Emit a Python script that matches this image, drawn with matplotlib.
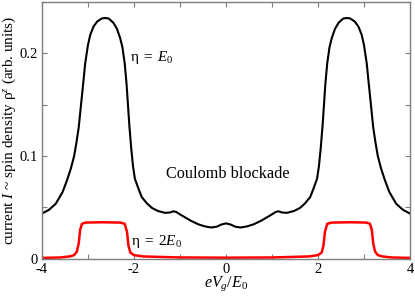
import numpy as np
import matplotlib
matplotlib.use("Agg")
import matplotlib.pyplot as plt
from matplotlib.ticker import MultipleLocator

plt.rcParams['font.family'] = ['Liberation Serif', 'DejaVu Serif']
plt.rcParams['mathtext.fontset'] = 'custom'
plt.rcParams['mathtext.rm'] = 'Liberation Serif'
plt.rcParams['mathtext.it'] = 'Liberation Serif:italic'

# eta = E0 curve (black)
x_black = [-4.00, -3.85, -3.70, -3.55, -3.45, -3.37, -3.30, -3.25, -3.20, -3.15,
           -3.10, -3.06, -3.00, -2.95, -2.88, -2.80, -2.70, -2.63, -2.55, -2.45,
           -2.37, -2.30, -2.25, -2.20, -2.16, -2.13, -2.10, -2.06, -2.02, -1.98,
           -1.90, -1.83, -1.72, -1.61, -1.48, -1.33, -1.22, -1.14, -1.08, -0.97,
           -0.86, -0.76, -0.60, -0.46, -0.32, -0.20, -0.10, 0.00,
           0.10, 0.20, 0.32, 0.46, 0.60, 0.76, 0.86, 0.97, 1.08, 1.14,
           1.22, 1.33, 1.48, 1.61, 1.72, 1.83, 1.90, 1.98, 2.02, 2.06,
           2.10, 2.13, 2.16, 2.20, 2.25, 2.30, 2.37, 2.45, 2.55, 2.63,
           2.70, 2.80, 2.88, 2.95, 3.00, 3.06, 3.10, 3.15, 3.20, 3.25,
           3.30, 3.37, 3.45, 3.55, 3.70, 3.85, 4.00]
y_black = [0.0440, 0.0475, 0.0535, 0.0650, 0.0770, 0.0880, 0.1000, 0.1130, 0.1280, 0.1500,
           0.1720, 0.1900, 0.2080, 0.2180, 0.2260, 0.2310, 0.2340, 0.2345, 0.2340, 0.2300,
           0.2240, 0.2150, 0.2060, 0.1900, 0.1700, 0.1500, 0.1300, 0.1080, 0.0900, 0.0780,
           0.0680, 0.0600, 0.0540, 0.0495, 0.0465, 0.0447, 0.0450, 0.0462, 0.0455, 0.0424,
           0.0395, 0.0369, 0.0335, 0.0315, 0.0304, 0.0312, 0.0333, 0.0344,
           0.0333, 0.0312, 0.0304, 0.0315, 0.0335, 0.0369, 0.0395, 0.0424, 0.0455, 0.0462,
           0.0450, 0.0447, 0.0465, 0.0495, 0.0540, 0.0600, 0.0680, 0.0780, 0.0900, 0.1080,
           0.1300, 0.1500, 0.1700, 0.1900, 0.2060, 0.2150, 0.2240, 0.2300, 0.2340, 0.2345,
           0.2340, 0.2310, 0.2260, 0.2180, 0.2080, 0.1900, 0.1720, 0.1500, 0.1280, 0.1130,
           0.1000, 0.0880, 0.0770, 0.0650, 0.0535, 0.0475, 0.0440]

# eta = 2 E0 curve (red)
x_red = [-4.00, -3.60, -3.40, -3.30, -3.24, -3.20, -3.17, -3.13, -3.05, -2.70,
         -2.30, -2.20, -2.15, -2.12, -2.08, -2.00, -1.80, -1.00, 0.00,
         1.00, 1.80, 2.00, 2.08, 2.12, 2.15, 2.20, 2.30, 2.70, 3.05,
         3.13, 3.17, 3.20, 3.24, 3.30, 3.40, 3.60, 4.00]
y_red = [0.0008, 0.0012, 0.0022, 0.0035, 0.0070, 0.0150, 0.0280, 0.0340, 0.0352, 0.0355,
         0.0352, 0.0340, 0.0260, 0.0130, 0.0060, 0.0035, 0.0022, 0.0012, 0.0010,
         0.0012, 0.0022, 0.0035, 0.0060, 0.0130, 0.0260, 0.0340, 0.0352, 0.0355, 0.0352,
         0.0340, 0.0280, 0.0150, 0.0070, 0.0035, 0.0022, 0.0012, 0.0008]

fig = plt.figure(figsize=(4.15, 2.96), dpi=100)
ax = fig.add_axes([0.101, 0.126, 0.887, 0.867])

ax.plot(x_black, y_black, color='black', lw=1.5)
ax.plot(x_red, y_red, color='red', lw=1.8)

ax.set_xlim(-4, 4)
ax.set_ylim(0, 0.25)
ax.xaxis.set_minor_locator(MultipleLocator(1))
ax.yaxis.set_minor_locator(MultipleLocator(0.05))
ax.set_xticks([-4, -2, 0, 2, 4], ['-4', '-2', '0', '2', '4'])
ax.set_yticks([0, 0.1, 0.2], ['0', '0.1', '0.2'])

for s in ax.spines.values():
    s.set_color('#7f7f7f')
    s.set_linewidth(1.0)
ax.tick_params(which='both', direction='in', top=True, right=True,
               length=3.6, width=0.8, color='#7f7f7f', labelsize=10.5)
ax.tick_params(axis='x', pad=3)
ax.tick_params(axis='y', pad=3)

ax.set_xlabel(r'$eV_g/E_0$', fontsize=11.5, labelpad=-1)
ax.set_ylabel(r'current $I$ ~ spin density $\mathrm{\rho}^z$ (arb. units)', fontsize=11, labelpad=1)

ax.text(-2.09, 0.196, r'$\mathrm{\eta}\;=\;E_0$', fontsize=11, va='center', ha='left')
ax.text(0.03, 0.083, 'Coulomb blockade', fontsize=11.7, va='center', ha='center')
ax.text(-2.06, 0.017, r'$\mathrm{\eta}\;=\;2E_0$', fontsize=11, va='center', ha='left')

fig.savefig('out.png', dpi=100)
